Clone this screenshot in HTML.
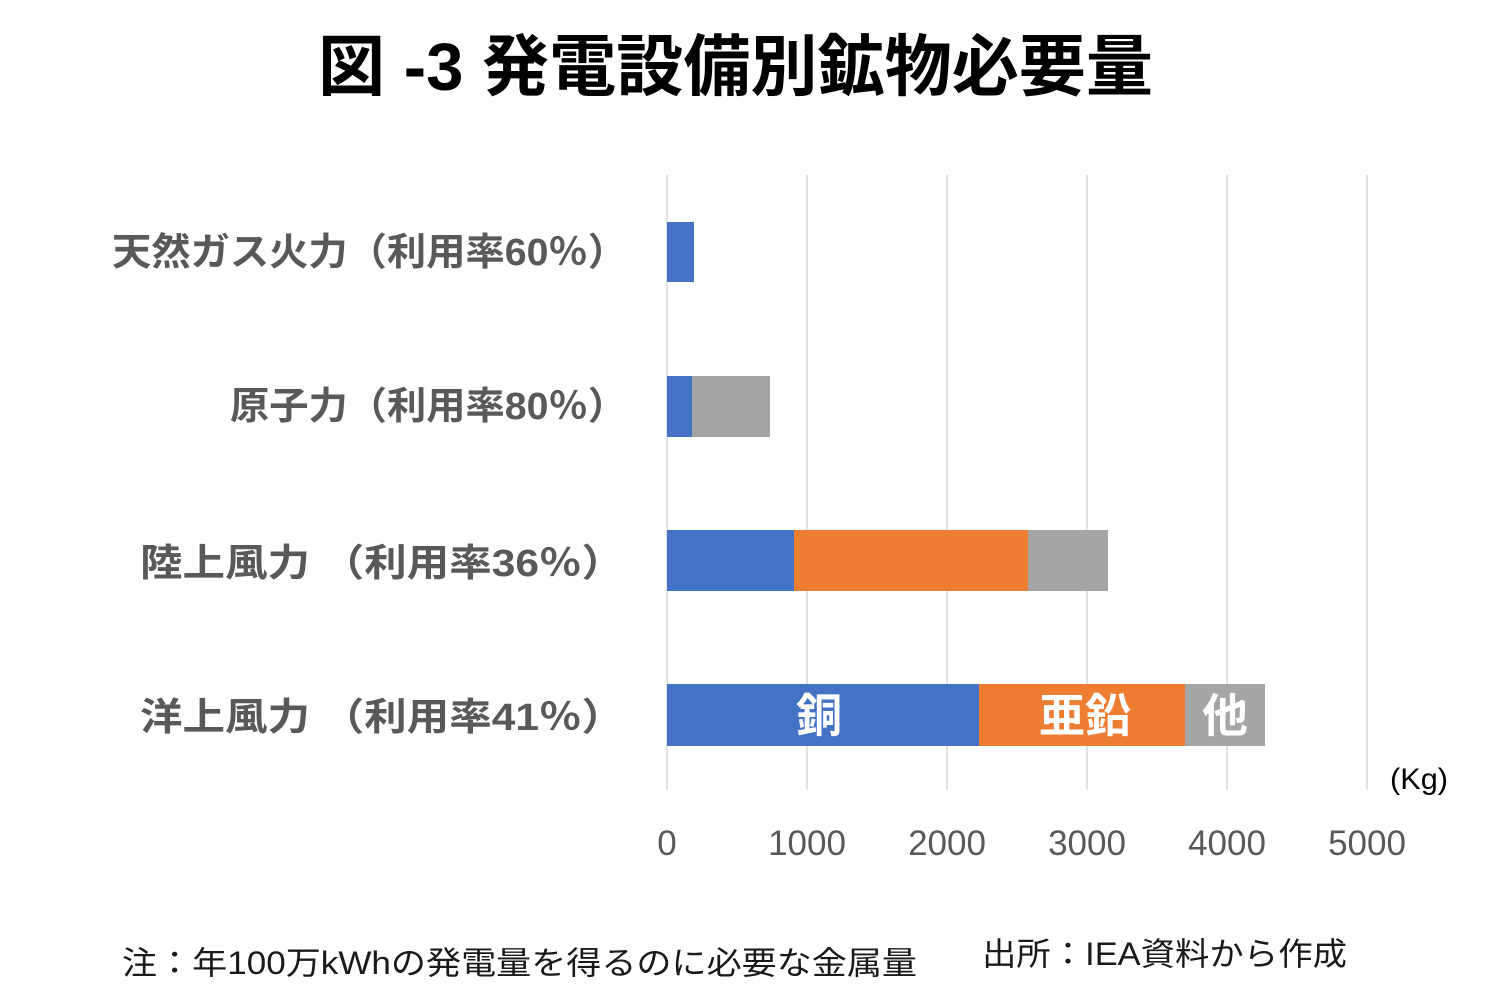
<!DOCTYPE html>
<html>
<head>
<meta charset="utf-8">
<style>
html,body{margin:0;padding:0;background:#fff;}
svg{display:block;}
.t{font-family:"Liberation Sans","Noto Sans CJK JP",sans-serif;}
</style>
</head>
<body>
<svg width="1500" height="1000" viewBox="0 0 1500 1000" xmlns="http://www.w3.org/2000/svg">
<rect width="1500" height="1000" fill="#fff"/>
<!-- Title -->
<text class="t" x="318" y="90" font-size="67" font-weight="bold" fill="#000" textLength="835" lengthAdjust="spacingAndGlyphs">図 -3 発電設備別鉱物必要量</text>

<!-- gridlines -->
<g stroke="#d9d9d9" stroke-width="1.5">
<line x1="667" y1="175" x2="667" y2="790"/>
<line x1="807" y1="175" x2="807" y2="790"/>
<line x1="947" y1="175" x2="947" y2="790"/>
<line x1="1087" y1="175" x2="1087" y2="790"/>
<line x1="1227" y1="175" x2="1227" y2="790"/>
<line x1="1367" y1="175" x2="1367" y2="790"/>
</g>

<!-- bars -->
<rect x="667" y="222" width="27" height="60" fill="#4472C4"/>
<rect x="667" y="376" width="25" height="61" fill="#4472C4"/>
<rect x="692" y="376" width="78" height="61" fill="#A5A5A5"/>
<rect x="667" y="530" width="127" height="61" fill="#4472C4"/>
<rect x="794" y="530" width="234" height="61" fill="#ED7D31"/>
<rect x="1028" y="530" width="80" height="61" fill="#A5A5A5"/>
<rect x="667" y="684" width="312" height="62" fill="#4472C4"/>
<rect x="979" y="684" width="206" height="62" fill="#ED7D31"/>
<rect x="1185" y="684" width="80" height="62" fill="#A5A5A5"/>

<!-- bar labels -->
<g class="t" font-size="46" font-weight="bold" fill="#fff" text-anchor="middle">
<text x="819" y="732">銅</text>
<text x="1085" y="732">亜鉛</text>
<text x="1225" y="732">他</text>
</g>

<!-- category labels -->
<g class="t" font-size="38" font-weight="bold" fill="#595959">
<text x="112" y="265" textLength="515" lengthAdjust="spacingAndGlyphs">天然ガス火力（利用率60％）</text>
<text x="230" y="419" textLength="397" lengthAdjust="spacingAndGlyphs">原子力（利用率80％）</text>
<text x="140" y="576" textLength="484" lengthAdjust="spacingAndGlyphs">陸上風力 （利用率36％）</text>
<text x="140" y="730" textLength="484" lengthAdjust="spacingAndGlyphs">洋上風力 （利用率41％）</text>
</g>

<!-- tick labels -->
<g class="t" font-size="35" fill="#595959" text-anchor="middle">
<text x="667" y="855">0</text>
<text x="807" y="855">1000</text>
<text x="947" y="855">2000</text>
<text x="1087" y="855">3000</text>
<text x="1227" y="855">4000</text>
<text x="1367" y="855">5000</text>
</g>
<text class="t" x="1390" y="789" font-size="30" fill="#000" textLength="58" lengthAdjust="spacingAndGlyphs">(Kg)</text>

<!-- footer -->
<text class="t" x="122" y="974" font-size="32" fill="#1a1a1a" textLength="795" lengthAdjust="spacingAndGlyphs">注：年100万kWhの発電量を得るのに必要な金属量</text>
<text class="t" x="982" y="965" font-size="32" fill="#1a1a1a" textLength="365" lengthAdjust="spacingAndGlyphs">出所：IEA資料から作成</text>
</svg>
</body>
</html>
